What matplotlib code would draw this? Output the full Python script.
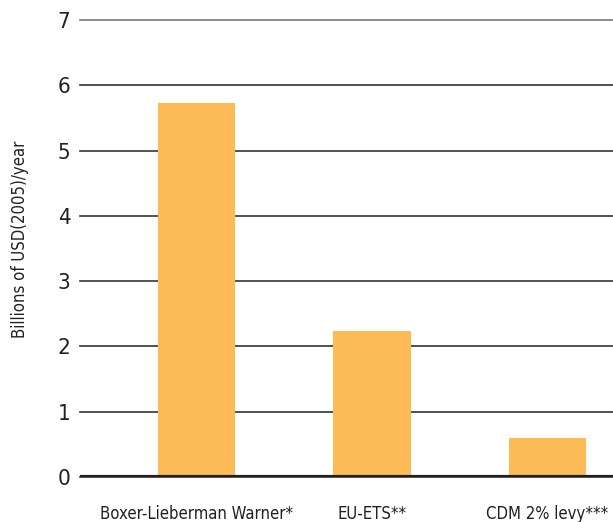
import matplotlib
matplotlib.use("Agg")
import matplotlib.pyplot as plt
from matplotlib import font_manager as fm

categories = ["Boxer-Lieberman Warner*", "EU-ETS**", "CDM 2% levy***"]
values = [5.73, 2.24, 0.6]
yticks = [0, 1, 2, 3, 4, 5, 6, 7]

# look for a narrow / condensed face on the system
narrow = None
for f in fm.fontManager.ttflist:
    name = f.fname.lower()
    if ('narrow' in name or 'condensed' in name) and 'bold' not in name \
            and 'oblique' not in name and 'italic' not in name and 'light' not in name:
        narrow = f.fname
        break

if narrow:
    fp = fm.FontProperties(fname=narrow)
else:
    fp = fm.FontProperties(family='DejaVu Sans', stretch='condensed')

fig = plt.figure(figsize=(6.13, 5.22), dpi=100)
ax = fig.add_axes([0.1305, 0.0862, 0.8695, 0.8755])

x = list(range(len(categories)))
ax.bar(x, values, width=0.44, color='#FDBB55', zorder=3)

ax.set_ylim(0, 7)
ax.set_xlim(-0.664, 2.373)
ax.set_yticks(yticks)
ax.set_yticklabels([str(t) for t in yticks], fontproperties=fp, fontsize=16, color='#231f20')
ax.set_xticks(x)
ax.set_xticklabels(categories, fontproperties=fp, fontsize=12, color='#231f20')
ax.tick_params(axis='y', length=0, pad=7)
ax.tick_params(axis='x', length=0, pad=20)

ax.yaxis.grid(True, color='#333333', linewidth=1.2, zorder=1)
for line in ax.get_ygridlines():
    line.set_clip_on(False)
ax.get_ygridlines()[-1].set_color('#777777')
ax.axhline(0, color='#231f20', linewidth=3, zorder=4)
for s in ax.spines.values():
    s.set_visible(False)

ax.set_ylabel('Billions of USD(2005)/year', fontproperties=fp, fontsize=12,
              color='#231f20')
ax.yaxis.set_label_coords(-0.095, 0.52)

fig.savefig('out.png', dpi=100)
